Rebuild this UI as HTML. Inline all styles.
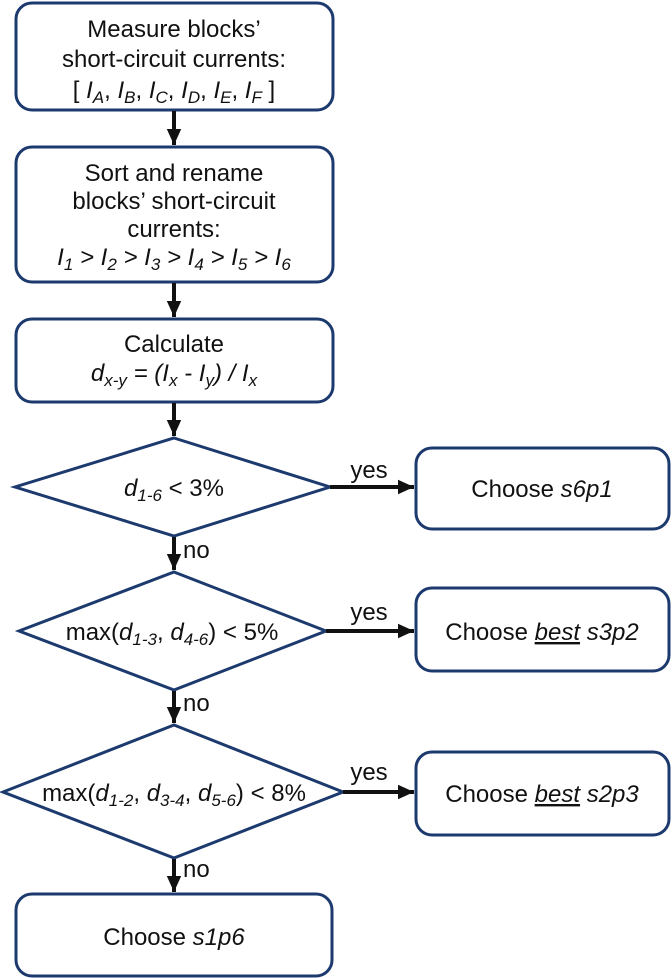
<!DOCTYPE html>
<html><head><meta charset="utf-8"><style>
html,body{margin:0;padding:0;background:#fff;}
svg{display:block;font-family:"Liberation Sans",Arial,sans-serif;}
text{font-size:24px;fill:#111;}
.s{font-size:17px;}
</style></head><body>
<svg width="672" height="978" viewBox="0 0 672 978" xmlns="http://www.w3.org/2000/svg">
<defs>
<marker id="ah" viewBox="0 0 10 10" markerWidth="16" markerHeight="16" refX="10" refY="5" orient="auto" markerUnits="userSpaceOnUse"><path d="M0,0.5 L10,5 L0,9.5 z" fill="#111"/></marker></defs>
<g fill="#fff" stroke="#1c3a6e" stroke-width="3">
<rect x="16" y="3" width="317" height="107" rx="16"/>
<rect x="16" y="147" width="317" height="135" rx="16"/>
<rect x="16" y="319" width="317" height="83" rx="16"/>
<polygon points="174,438 330,487 174,536 15,487"/>
<polygon points="174,572 326,631 174,690 19,631"/>
<polygon points="174,725 343,792 174,858 3,792"/>
<rect x="416" y="448" width="253" height="81" rx="16"/>
<rect x="416" y="588" width="253" height="83" rx="16"/>
<rect x="416" y="752" width="253" height="83" rx="16"/>
<rect x="16" y="894" width="316" height="82" rx="16"/>
</g>
<g stroke="#111" stroke-width="4" fill="none">
<line x1="174" y1="111" x2="174" y2="145" marker-end="url(#ah)"/>
<line x1="174" y1="283" x2="174" y2="317" marker-end="url(#ah)"/>
<line x1="174" y1="403" x2="174" y2="436" marker-end="url(#ah)"/>
<line x1="174" y1="537" x2="174" y2="570" marker-end="url(#ah)"/>
<line x1="174" y1="691" x2="174" y2="723" marker-end="url(#ah)"/>
<line x1="174" y1="859" x2="174" y2="892" marker-end="url(#ah)"/>
<line x1="330" y1="487" x2="414" y2="487" marker-end="url(#ah)"/>
<line x1="326" y1="631" x2="414" y2="631" marker-end="url(#ah)"/>
<line x1="343" y1="792" x2="414" y2="792" marker-end="url(#ah)"/>
</g>
<g text-anchor="middle">
<text x="174" y="37">Measure blocks’</text>
<text x="174" y="67">short-circuit currents:</text>
<text x="174" y="98">[ <tspan font-style="italic">I</tspan><tspan class="s" font-style="italic" dy="5">A</tspan><tspan dy="-5">, </tspan><tspan font-style="italic">I</tspan><tspan class="s" font-style="italic" dy="5">B</tspan><tspan dy="-5">, </tspan><tspan font-style="italic">I</tspan><tspan class="s" font-style="italic" dy="5">C</tspan><tspan dy="-5">, </tspan><tspan font-style="italic">I</tspan><tspan class="s" font-style="italic" dy="5">D</tspan><tspan dy="-5">, </tspan><tspan font-style="italic">I</tspan><tspan class="s" font-style="italic" dy="5">E</tspan><tspan dy="-5">, </tspan><tspan font-style="italic">I</tspan><tspan class="s" font-style="italic" dy="5">F</tspan><tspan dy="-5"> ]</tspan></text>
<text x="174" y="181">Sort and rename</text>
<text x="174" y="209">blocks’ short-circuit</text>
<text x="174" y="237">currents:</text>
<text x="174" y="265" font-style="italic">I<tspan class="s" dy="5">1</tspan><tspan dy="-5"> &gt; I</tspan><tspan class="s" dy="5">2</tspan><tspan dy="-5"> &gt; I</tspan><tspan class="s" dy="5">3</tspan><tspan dy="-5"> &gt; I</tspan><tspan class="s" dy="5">4</tspan><tspan dy="-5"> &gt; I</tspan><tspan class="s" dy="5">5</tspan><tspan dy="-5"> &gt; I</tspan><tspan class="s" dy="5">6</tspan></text>
<text x="174" y="352">Calculate</text>
<text x="174" y="381" font-style="italic">d<tspan class="s" dy="5">x-y</tspan><tspan dy="-5"> = (I</tspan><tspan class="s" dy="5">x</tspan><tspan dy="-5"> - I</tspan><tspan class="s" dy="5">y</tspan><tspan dy="-5">) / I</tspan><tspan class="s" dy="5">x</tspan></text>
<text x="174" y="496"><tspan font-style="italic">d</tspan><tspan class="s" font-style="italic" dy="5">1-6</tspan><tspan dy="-5"> &lt; 3%</tspan></text>
<text x="172" y="640">max(<tspan font-style="italic">d</tspan><tspan class="s" font-style="italic" dy="5">1-3</tspan><tspan dy="-5">, </tspan><tspan font-style="italic">d</tspan><tspan class="s" font-style="italic" dy="5">4-6</tspan><tspan dy="-5">) &lt; 5%</tspan></text>
<text x="174" y="801">max(<tspan font-style="italic">d</tspan><tspan class="s" font-style="italic" dy="5">1-2</tspan><tspan dy="-5">, </tspan><tspan font-style="italic">d</tspan><tspan class="s" font-style="italic" dy="5">3-4</tspan><tspan dy="-5">, </tspan><tspan font-style="italic">d</tspan><tspan class="s" font-style="italic" dy="5">5-6</tspan><tspan dy="-5">) &lt; 8%</tspan></text>
<text x="542" y="497">Choose <tspan font-style="italic">s6p1</tspan></text>
<text x="542" y="640">Choose <tspan font-style="italic" text-decoration="underline">best</tspan> <tspan font-style="italic">s3p2</tspan></text>
<text x="542" y="802">Choose <tspan font-style="italic" text-decoration="underline">best</tspan> <tspan font-style="italic">s2p3</tspan></text>
<text x="174" y="945">Choose <tspan font-style="italic">s1p6</tspan></text>
<text x="369" y="478">yes</text>
<text x="369" y="620">yes</text>
<text x="369" y="780">yes</text>
</g>
<text x="183" y="558">no</text>
<text x="183" y="711">no</text>
<text x="183" y="877">no</text>
</svg>
</body></html>
